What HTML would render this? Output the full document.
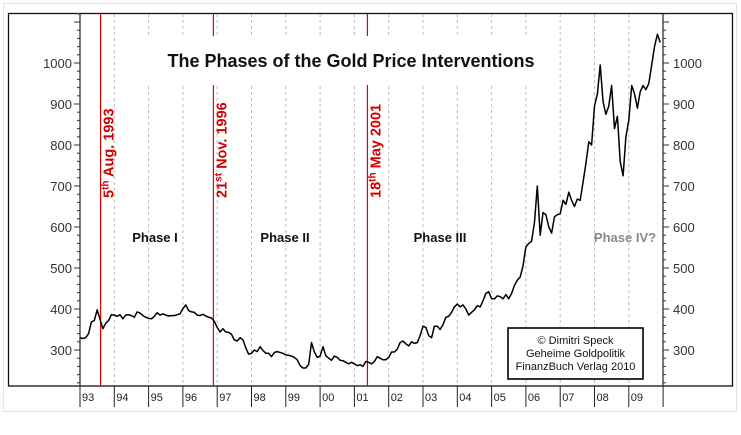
<!DOCTYPE html>
<html><head><meta charset="utf-8"><style>
html,body{margin:0;padding:0;background:#fff;}
svg{display:block;font-family:"Liberation Sans",Arial,sans-serif;}
</style></head><body>
<svg id="chart" width="741" height="435" viewBox="0 0 741 435" xmlns="http://www.w3.org/2000/svg">
<rect x="3.5" y="3.5" width="733" height="408" fill="#fff" stroke="#e4e4e4"/>
<rect x="8.5" y="13.5" width="724" height="372.5" fill="#fff" stroke="#111" stroke-width="1.3"/>
<g id="grid"></g>
<g id="phaselines"></g>
<rect x="140" y="36" width="405" height="49" fill="#fff"/>
<text x="351" y="67" text-anchor="middle" font-size="18" font-weight="bold" fill="#111">The Phases of the Gold Price Interventions</text>
<g id="axes"></g>
<path id="series" fill="none" stroke="#000" stroke-width="1.5" stroke-linejoin="round"/>
<g font-size="13" font-weight="bold">
<text x="155" y="242" text-anchor="middle" fill="#111">Phase I</text>
<text x="285" y="242" text-anchor="middle" fill="#111">Phase II</text>
<text x="440" y="242" text-anchor="middle" fill="#111">Phase III</text>
<text x="625" y="242" text-anchor="middle" fill="#8a8a8a">Phase IV?</text>
</g>
<g>
<rect x="508" y="328" width="135" height="51" fill="#fff" stroke="#000" stroke-width="1.6"/>
<text x="575.5" y="344" text-anchor="middle" font-size="11" fill="#111">© Dimitri Speck</text>
<text x="575.5" y="357" text-anchor="middle" font-size="11" fill="#111">Geheime Goldpolitik</text>
<text x="575.5" y="370" text-anchor="middle" font-size="11" fill="#111">FinanzBuch Verlag 2010</text>
</g>
</svg>
<script>
const years = ['93','94','95','96','97','98','99','00','01','02','03','04','05','06','07','08','09'];
const yTicks = [300,400,500,600,700,800,900,1000];
const startYear = 1993;
// monthly gold price (USD/oz), Jan 1993 .. Nov 2009
const prices = [
330,328,330,340,368,372,398,375,352,365,372,386,
385,382,386,376,385,386,384,380,393,390,384,380,
377,376,382,391,385,388,385,383,384,384,386,388,
401,410,396,393,392,385,384,387,383,380,378,370,
355,344,352,344,343,338,325,322,330,325,305,290,
292,300,296,308,299,292,292,284,294,296,294,292,
288,287,285,282,276,262,256,256,265,318,295,282,
285,308,286,280,275,285,282,275,274,270,266,270,
266,262,264,260,272,270,266,272,284,280,276,276,
282,295,295,302,318,322,315,310,320,316,318,335,
358,355,335,330,358,358,350,362,380,382,392,405,
412,405,410,400,385,392,398,408,405,420,438,442,
425,425,432,430,425,435,425,438,458,470,478,505,
552,560,565,612,700,580,635,630,600,585,625,630,
632,665,655,685,665,650,668,665,710,755,808,800,
895,925,995,905,875,895,945,840,870,760,725,820,
860,945,925,890,930,945,935,950,995,1040,1070,1050];
const phaseDates = [1993.6, 1996.89, 2001.38];
const phaseLabels = [['5','th',' Aug. 1993'],['21','st',' Nov. 1996'],['18','th',' May 2001']];
const NS='http://www.w3.org/2000/svg';
const xOf = t => 80 + (t - startYear) * 34.3;
const yOf = v => 63 + (1000 - v) * 0.41;
function mk(tag, attrs, parent){const e=document.createElementNS(NS,tag);for(const k in attrs)e.setAttribute(k,attrs[k]);parent.appendChild(e);return e;}
const grid=document.getElementById('grid'), axes=document.getElementById('axes'), pl=document.getElementById('phaselines');
years.forEach((y,i)=>{
  if(i===0) return;
  const l=mk('line',{x1:xOf(startYear+i),x2:xOf(startYear+i),y1:14,y2:385,stroke:'#bbb','stroke-dasharray':'3,3'},grid);
  
  
});
years.forEach((y,i)=>{
  const x=xOf(startYear+i);
  const t=mk('line',{x1:x,x2:x,y1:386,y2:407,stroke:'#222'},axes);
  
  
  const tx=mk('text',{x:x+2,y:401,'font-size':'11',fill:'#222'},axes);
  tx.textContent=y;
  
  
});
mk('line',{x1:xOf(2010),x2:xOf(2010),y1:386,y2:407,stroke:'#222'},axes);
mk('line',{x1:80,x2:80,y1:14,y2:386,stroke:'#333','stroke-width':1.3},axes);
mk('line',{x1:663,x2:663,y1:14,y2:386,stroke:'#333','stroke-width':1.3},axes);
for(let v=220; v<=1120; v+=20){
  const y=yOf(v); const major=v%100===0;
  mk('line',{x1:80-(major?6:3),x2:80,y1:y,y2:y,stroke:'#333'},axes);
  mk('line',{x1:663,x2:663+(major?6:3),y1:y,y2:y,stroke:'#333'},axes);
}
yTicks.forEach(v=>{
  const a=mk('text',{x:72,y:yOf(v)+5,'text-anchor':'end','font-size':'13',fill:'#333'},axes);
  a.textContent=v;
  
  
  const b=mk('text',{x:673,y:yOf(v)+5,'font-size':'13',fill:'#333'},axes);
  b.textContent=v;
  
  
});
phaseDates.forEach((d,i)=>{
  const x=xOf(d);
  const l=mk('line',{x1:x,x2:x,y1:14,y2:386,stroke:'#e00000','stroke-width':1.2},pl);
  
  
  const t=mk('text',{x:0,y:0,'font-size':'14.5','font-weight':'bold',fill:'#d00000',transform:`translate(${x+13},198) rotate(-90)`},document.getElementById('chart'));
  
  
  const p=phaseLabels[i];
  const s1=mk('tspan',{},t); s1.textContent=p[0];
  const s2=mk('tspan',{dy:-5,'font-size':'10'},t); s2.textContent=p[1];
  const s3=mk('tspan',{dy:5},t); s3.textContent=p[2];
});
let dstr='';
prices.forEach((v,i)=>{dstr+=(i?'L':'M')+xOf(startYear+i/12).toFixed(1)+','+yOf(v).toFixed(1);});
document.getElementById('series').setAttribute('d',dstr);
</script>
</body></html>
